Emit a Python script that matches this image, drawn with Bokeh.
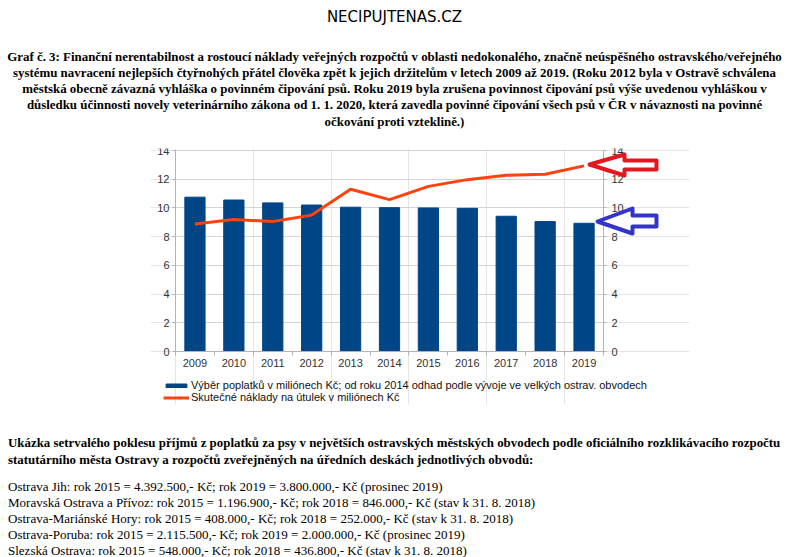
import html
from bokeh.plotting import figure
from bokeh.layouts import column
from bokeh.models import (Range1d, LinearAxis, PolyAnnotation, FixedTicker, Grid, Div,
                          Legend, LegendItem)
from bokeh.embed import file_html
from bokeh.resources import INLINE

# ---------------- data ----------------
years = ["2009", "2010", "2011", "2012", "2013", "2014", "2015", "2016", "2017", "2018", "2019"]
fees = [10.75, 10.55, 10.35, 10.2, 10.05, 10.02, 10.0, 9.97, 9.42, 9.05, 8.93]
costs = [8.88, 9.2, 9.05, 9.5, 11.3, 10.58, 11.5, 11.97, 12.27, 12.35, 12.93]
y_ticks = [0, 2, 4, 6, 8, 10, 12, 14]

fees_label = "Výběr poplatků v miliónech Kč; od roku 2014 odhad podle vývoje ve velkých ostrav. obvodech"
costs_label = "Skutečné náklady na útulek v miliónech Kč"

site_title = "NECIPUJTENAS.CZ"
caption_lines = [
    "Graf č. 3: Finanční nerentabilnost a rostoucí náklady veřejných rozpočtů v oblasti nedokonalého, značně neúspěšného ostravského/veřejného",
    "systému navracení nejlepších čtyřnohých přátel člověka zpět k jejich držitelům v letech 2009 až 2019. (Roku 2012 byla v Ostravě schválena",
    "městská obecně závazná vyhláška o povinném čipování psů. Roku 2019 byla zrušena povinnost čipování psů výše uvedenou vyhláškou v",
    "důsledku účinnosti novely veterinárního zákona od 1. 1. 2020, která zavedla povinné čipování všech psů v ČR v návaznosti na povinné",
    "očkování proti vzteklině.)",
]
bottom_bold = [
    "Ukázka setrvalého poklesu příjmů z poplatků za psy v největších ostravských městských obvodech podle oficiálního rozklikávacího rozpočtu",
    "statutárního města Ostravy a rozpočtů zveřejněných na úředních deskách jednotlivých obvodů:",
]
bottom_lines = [
    "Ostrava Jih: rok 2015 = 4.392.500,- Kč; rok 2019 = 3.800.000,- Kč (prosinec 2019)",
    "Moravská Ostrava a Přívoz: rok 2015 = 1.196.900,- Kč; rok 2018 = 846.000,- Kč (stav k 31. 8. 2018)",
    "Ostrava-Mariánské Hory: rok 2015 = 408.000,- Kč; rok 2018 = 252.000,- Kč (stav k 31. 8. 2018)",
    "Ostrava-Poruba: rok 2015 = 2.115.500,- Kč; rok 2019 = 2.000.000,- Kč (prosinec 2019)",
    "Slezská Ostrava: rok 2015 = 548.000,- Kč; rok 2018 = 436.800,- Kč (stav k 31. 8. 2018)",
]

# ---------------- geometry (page pixels) ----------------
PAGE_W = 789
TOP_H, FIG_H, BOT_H = 128, 300, 129
FIG_TOP = TOP_H
BORDER_L, BORDER_R, BORDER_T, BORDER_B = 150, 100, 20, 24
FRAME_L, FRAME_R = BORDER_L, PAGE_W - BORDER_R
FRAME_T, FRAME_B = FIG_TOP + BORDER_T, FIG_TOP + FIG_H - BORDER_B
# chart area: category 0..11 spans x 175..603, value 0..14 spans y 351..150
CX0, CX1, CY0, CY1 = 175, 603, 351, 150
n = len(years)
cw = (CX1 - CX0) / n
k = (CY0 - CY1) / 14.0


def dx(px):
    return (px - CX0) / cw


def dy(py):
    return (CY0 - py) / k


p = figure(width=PAGE_W, height=FIG_H,
           x_range=Range1d(dx(FRAME_L), dx(FRAME_R)), y_range=Range1d(dy(FRAME_B), dy(FRAME_T)),
           x_axis_location=None, y_axis_location=None,
           output_backend="svg", toolbar_location=None,
           min_border_left=BORDER_L, min_border_right=BORDER_R,
           min_border_top=BORDER_T, min_border_bottom=BORDER_B)
p.outline_line_color = None
p.margin = 0

xpos = [i + 0.5 for i in range(n)]

grid = Grid(dimension=1, ticker=FixedTicker(ticks=y_ticks), grid_line_color="#d4d4d4")
if "cross_bounds" in grid.properties():
    grid.cross_bounds = (0, n)
    p.add_layout(grid)
else:
    p.segment(x0=[0] * len(y_ticks), x1=[n] * len(y_ticks), y0=y_ticks, y1=y_ticks,
              line_color="#d4d4d4", line_width=1)

bars = p.vbar(x=xpos, top=fees, width=0.52, color="#004586")
line = p.line(x=xpos, y=costs, line_color="#ff420e", line_width=3)


def style_axis(ax):
    ax.axis_line_color = "#b3b3b3"
    ax.major_tick_line_color = "#b3b3b3"
    ax.major_tick_out = 3
    ax.major_tick_in = 0
    ax.minor_tick_line_color = None
    ax.major_label_text_font = "Liberation Sans"
    ax.major_label_text_font_size = "11px"
    ax.major_label_text_color = "#333333"
    ax.major_label_standoff = 3


left_ax = LinearAxis(ticker=FixedTicker(ticks=y_ticks), fixed_location=0, bounds=(0, 14))
style_axis(left_ax)
p.add_layout(left_ax, "left")

right_ax = LinearAxis(ticker=FixedTicker(ticks=y_ticks), fixed_location=n, bounds=(0, 14))
style_axis(right_ax)
right_ax.major_label_standoff = 5
p.add_layout(right_ax, "right")

x_ax = LinearAxis(ticker=FixedTicker(ticks=xpos), fixed_location=0, bounds=(0, n),
                  major_label_overrides={x: y for x, y in zip(xpos, years)})
style_axis(x_ax)
x_ax.major_tick_line_color = None
x_ax.major_tick_out = 0
x_ax.major_label_standoff = 7
p.add_layout(x_ax, "below")

# category boundary tick marks (pointing down from the zero line)
bound_ax = LinearAxis(ticker=FixedTicker(ticks=list(range(n + 1))), fixed_location=0, bounds=(0, n),
                      major_label_overrides={i: "" for i in range(n + 1)})
bound_ax.axis_line_color = None
bound_ax.major_tick_line_color = "#b3b3b3"
bound_ax.major_tick_in = 4
bound_ax.major_tick_out = 0
bound_ax.minor_tick_line_color = None
bound_ax.major_label_text_font_size = "1px"
bound_ax.major_label_standoff = 0
p.add_layout(bound_ax, "above")

LEG_TOP, LEG_H = 377, 26
legend = Legend(items=[LegendItem(label=fees_label, renderers=[bars]),
                       LegendItem(label=costs_label, renderers=[line])],
                location=(163 - FRAME_L, FRAME_B - (LEG_TOP + LEG_H)))
legend.padding = 0
legend.margin = 0
legend.border_line_color = None
legend.background_fill_alpha = 0
legend.label_text_font = "Liberation Sans"
legend.label_text_font_size = "11px"
legend.label_text_color = "#111111"
legend.glyph_width = 26
legend.glyph_height = 5
legend.label_height = 12
legend.spacing = 0
legend.label_standoff = 2
p.add_layout(legend)

# outline arrows pointing at the series ends (page pixel outlines)
arrows = [
    ("#e4161f", [589, 624, 624, 656, 656, 624, 624], [164, 154, 160, 160, 169, 169, 175]),
    ("#3434c8", [597, 632, 632, 656, 656, 632, 632], [221, 208, 215, 215, 226, 226, 233]),
]
for col, xs, ys in arrows:
    p.add_layout(PolyAnnotation(xs=[dx(v) for v in xs], ys=[dy(v) for v in ys],
                                line_color=col, line_alpha=1.0, line_width=4, line_join="round",
                                fill_color="white", fill_alpha=1.0))


def line_div(top, text, style):
    return (f'<div style="position:absolute;left:0;top:{top:.1f}px;width:{PAGE_W}px;'
            f'white-space:nowrap;margin:0;padding:0;color:#000;{style}">{html.escape(text)}</div>')


def block(height, parts):
    return (f'<div style="position:relative;width:{PAGE_W}px;height:{height}px;margin:0;padding:0;'
            f'overflow:visible;">' + "".join(parts) + '</div>')


serif_b = "font-family:'Liberation Serif';font-weight:bold;font-size:12.9px;line-height:16px;"
serif_n = "font-family:'Liberation Serif';font-weight:normal;font-size:13px;line-height:16px;"

top_parts = [line_div(17 - 10, site_title,
                      "text-align:center;font-family:'DejaVu Sans';font-size:15px;line-height:20px;")]
for i, t in enumerate(caption_lines):
    top_parts.append(line_div(56.5 + 16.3 * i - 8, t, "text-align:center;" + serif_b))

BOT_Y0 = FIG_TOP + FIG_H
bot_parts = []
for i, t in enumerate(bottom_bold):
    bot_parts.append(line_div(443 + 16.5 * i - 8 - BOT_Y0, t, "text-align:left;padding-left:8px;" + serif_b))
for i, t in enumerate(bottom_lines):
    bot_parts.append(line_div(487 + 16.0 * i - 8 - BOT_Y0, t, "text-align:left;padding-left:8px;" + serif_n))

top_div = Div(text=block(TOP_H, top_parts), width=PAGE_W, height=TOP_H, margin=0)
bot_div = Div(text=block(BOT_H, bot_parts), width=PAGE_W, height=BOT_H, margin=0)

layout = column(top_div, p, bot_div, spacing=0)
open("out.html", "w").write(file_html(layout, INLINE))
